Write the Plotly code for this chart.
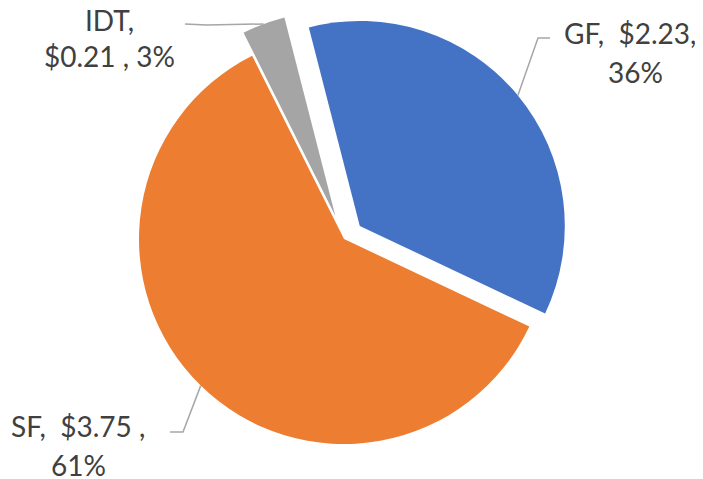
import math
import plotly.graph_objects as go

# ---- data ----
categories = ["GF", "SF", "IDT"]
values = [2.23, 3.75, 0.21]
colors = ["#4472C4", "#ED7D31", "#A5A5A5"]
pulls = [0.10, 0.0, 0.12]

# page body has an 8px margin; figure is sized to fit the 703x479 window
OFF = 8
W, H = 703 - OFF, 479 - OFF
ROT = -14.4

# desired pie centre / radius in window pixels
CX_S, CY_S, R = 344, 239, 205
cx_f, cy_f = CX_S - OFF, CY_S - OFF
half = R * (1 + max(pulls))
DOM_X = [(cx_f - half - 20) / W, (cx_f + half + 20) / W]
DOM_Y = [1 - (cy_f + half) / H, 1 - (cy_f - half) / H]

total = sum(values)
pcts = [round(v / total * 100) for v in values]
label_lines = [
    [f"{categories[0]},  ${values[0]:.2f},", f"{pcts[0]}%"],
    [f"{categories[1]},  ${values[1]:.2f} ,", f"{pcts[1]}%"],
    [f"{categories[2]},", f"${values[2]:.2f} , {pcts[2]}%"],
]

fig = go.Figure(go.Pie(
    labels=categories,
    values=values,
    sort=False,
    direction="clockwise",
    rotation=ROT,
    pull=pulls,
    marker=dict(colors=colors, line=dict(width=0)),
    textinfo="none",
    hoverinfo="label+value+percent",
    domain=dict(x=DOM_X, y=DOM_Y),
    showlegend=False,
))

# pie geometry as plotly computes it (for leader-line anchors), figure px
box_w = (DOM_X[1] - DOM_X[0]) * W
box_h = (DOM_Y[1] - DOM_Y[0]) * H
r = min(box_w, box_h) / (2 + 2 * max(pulls))
cx = (DOM_X[0] + DOM_X[1]) / 2 * W
cy = (1 - (DOM_Y[0] + DOM_Y[1]) / 2) * H

anchors = []
cum = 0.0
for v, p in zip(values, pulls):
    mid = math.radians(ROT + (cum + v / 2) / total * 360)
    cum += v
    d = r * (1 + p)
    anchors.append((cx + d * math.sin(mid), cy - d * math.cos(mid)))

# label layout in window pixels: elbow, line end, centre of each text line
label_layout = [
    dict(elbow=(538, 38), end=(550, 38), lines=[(630, 33), (635, 72)]),
    dict(elbow=(183, 432), end=(170, 432), lines=[(78, 426), (78, 465)]),
    dict(elbow=(207, 25), end=(185, 24), lines=[(109, 20), (109, 56)]),
]

def px(x):
    return x / W

def py(y):
    return 1 - y / H

for (ax_, ay_), lay, lines in zip(anchors, label_layout, label_lines):
    ex, ey = lay["elbow"][0] - OFF, lay["elbow"][1] - OFF
    nx, ny = lay["end"][0] - OFF, lay["end"][1] - OFF
    fig.add_shape(
        type="path", xref="paper", yref="paper",
        path=f"M {px(ax_)} {py(ay_)} L {px(ex)} {py(ey)} L {px(nx)} {py(ny)}",
        line=dict(color="#A6A6A6", width=1.5),
    )
    for txt, (tx, ty) in zip(lines, lay["lines"]):
        fig.add_annotation(
            x=px(tx - OFF), y=py(ty - OFF), xref="paper", yref="paper",
            text=txt, showarrow=False, align="center",
            xanchor="center", yanchor="middle", borderpad=0,
            font=dict(family="Lato, Open Sans, sans-serif", size=28, color="#404040"),
        )

fig.update_layout(
    width=W, height=H,
    margin=dict(l=0, r=0, t=0, b=0),
    paper_bgcolor="white",
    plot_bgcolor="white",
)

fig.write_html("out.html")
